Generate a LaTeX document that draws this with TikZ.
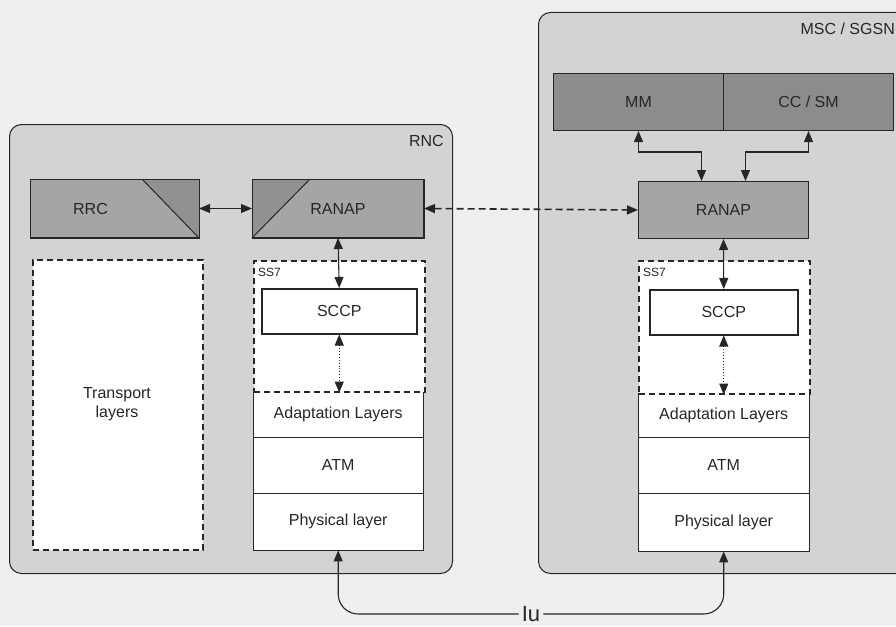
\documentclass[tikz,border=0pt]{standalone}
\usepackage{fontspec}
\setmainfont{Liberation Sans}
\usetikzlibrary{arrows.meta,calc}
\definecolor{pagebg}{HTML}{EFEFEF}
\definecolor{panelgrey}{HTML}{D3D3D3}
\definecolor{protogrey}{HTML}{A5A5A5}
\definecolor{wedgegrey}{HTML}{919191}
\definecolor{upperdark}{HTML}{8C8C8C}
\definecolor{ink}{HTML}{262626}
\begin{document}
\begin{tikzpicture}[x=1pt,y=-1pt,
  font=\fontsize{16}{19}\selectfont,
  text=ink,
  panel/.style={draw=ink,fill=panelgrey,rounded corners=12pt,line width=1pt,anchor=north west,inner sep=0pt},
  proto/.style={draw=ink,fill=protogrey,line width=1pt,anchor=north west,inner sep=0pt},
  upper/.style={proto,fill=upperdark},
  sccpbox/.style={draw=ink,fill=white,line width=1.5pt,anchor=north west,inner sep=0pt},
  ss7box/.style={draw=ink,fill=white,dash pattern=on 6pt off 4pt,line width=1.6pt,anchor=north west,inner sep=0pt},
  layer/.style={anchor=north west,inner sep=0pt,minimum width=170pt},
  rule/.style={draw=ink,line width=1pt},
  link/.style={draw=ink,line width=1.1pt,{Triangle[length=11pt,width=9pt]}-{Triangle[length=11pt,width=9pt]}},
  uplink/.style={draw=ink,line width=1.1pt,-{Triangle[length=11pt,width=9pt]},rounded corners=20pt},
  peer/.style={link,line width=1.6pt,dash pattern=on 7pt off 4pt},
  inner/.style={link,line width=0.9pt,dotted},
  small/.style={font=\fontsize{12}{14}\selectfont,anchor=west,inner sep=0pt}
]
\useasboundingbox (0,0) rectangle (896,626);
\clip (0,0) rectangle (896,626);
\fill[pagebg] (0,0) rectangle (896,626);

% network elements
\node[panel,minimum width=443pt,minimum height=449pt] (rnc) at (9,124) {};
\node[panel,minimum width=380pt,minimum height=561pt] (msc) at (538,12) {};
\node[anchor=east,inner sep=0pt] (rnclabel) at (444,141) {RNC};
\node[anchor=east,inner sep=0pt] (msclabel) at (895,29) {MSC / SGSN};

% RNC: upper protocols
\node[proto,minimum width=168pt,minimum height=58pt] (rrc) at (30,179) {};
\fill[wedgegrey] ($(rrc.north east)+(-57,0)$) -- (rrc.north east) -- (rrc.south east) -- cycle;
\draw[rule] ($(rrc.north east)+(-57,0)$) -- (rrc.south east);
\draw[rule] (rrc.north west) rectangle (rrc.south east);
\node (rrclabel) at ($(rrc.center)+(-24,0)$) {RRC};

\node[proto,minimum width=171pt,minimum height=58pt] (lranap) at (252,179) {};
\fill[wedgegrey] (lranap.north west) -- ($(lranap.north west)+(58,0)$) -- (lranap.south west) -- cycle;
\draw[rule] ($(lranap.north west)+(58,0)$) -- (lranap.south west);
\draw[rule] (lranap.north west) rectangle (lranap.south east);
\node (lranaplabel) at (lranap.center) {RANAP};

% RNC: transport layers
\node[ss7box,minimum width=170pt,minimum height=290pt] (transport) at (32,259) {};
\node[align=center] (transportlabel) at (117,404) {Transport\\layers};

% RNC: SS7 stack
\fill[white] (253,391) rectangle (423,550);
\node[layer,minimum height=46pt] (ladapt) at (253,391) {Adaptation Layers};
\node[layer,minimum height=56pt] (latm) at (253,437) {ATM};
\node[layer,minimum height=57pt] (lphy) at (253,493) {Physical layer};
\draw[rule] (ladapt.north west) -- (lphy.south west) -- (lphy.south east) -- (ladapt.north east);
\draw[rule] (latm.north west) -- (latm.north east);
\draw[rule] (lphy.north west) -- (lphy.north east);
\node[ss7box,minimum width=171pt,minimum height=131pt] (lss7) at (253,260) {};
\node[small] (lss7label) at (258,272) {SS7};
\node[sccpbox,minimum width=155pt,minimum height=45pt] (lsccp) at (261,288) {SCCP};

% MSC / SGSN: upper protocols
\node[upper,minimum width=170pt,minimum height=57pt] (mm) at (553,73) {MM};
\node[upper,minimum width=170pt,minimum height=57pt] (ccsm) at (723,73) {CC / SM};
\node[proto,minimum width=170pt,minimum height=57pt] (rranap) at (638,181) {RANAP};

% MSC / SGSN: SS7 stack
\fill[white] (638,393) rectangle (809,551);
\node[layer,minimum height=44pt,minimum width=171pt] (radapt) at (638,393) {Adaptation Layers};
\node[layer,minimum height=56pt,minimum width=171pt] (ratm) at (638,437) {ATM};
\node[layer,minimum height=58pt,minimum width=171pt] (rphy) at (638,493) {Physical layer};
\draw[rule] (radapt.north west) -- (rphy.south west) -- (rphy.south east) -- (radapt.north east);
\draw[rule] (ratm.north west) -- (ratm.north east);
\draw[rule] (rphy.north west) -- (rphy.north east);
\node[ss7box,minimum width=171pt,minimum height=133pt] (rss7) at (638,260) {};
\node[small] (rss7label) at (643,272) {SS7};
\node[sccpbox,minimum width=148pt,minimum height=45pt] (rsccp) at (649,289) {SCCP};

% connectors
\draw[link] (rrc.east) -- (lranap.west);
\draw[peer] (lranap.east) -- (rranap.west);
\draw[link] (lranap.south) -- (lsccp.north);
\draw[inner] (lsccp.south) -- (lsccp.south |- lss7.south);
\draw[link] (rranap.south) -- (rsccp.north);
\draw[inner] (rsccp.south) -- (rsccp.south |- rss7.south);
\draw[link] (mm.south) |- ($(rranap.north)+(-22,-29)$) -- ($(rranap.north)+(-22,0)$);
\draw[link] (ccsm.south) |- ($(rranap.north)+(22,-29)$) -- ($(rranap.north)+(22,0)$);

% Iu interface
\node[font=\fontsize{22}{26}\selectfont,inner xsep=3pt,inner ysep=0pt] (iu) at (531,614) {Iu};
\draw[uplink] (iu.west) -| (lphy.south);
\draw[uplink] (iu.east) -| (rphy.south);
\end{tikzpicture}
\end{document}
